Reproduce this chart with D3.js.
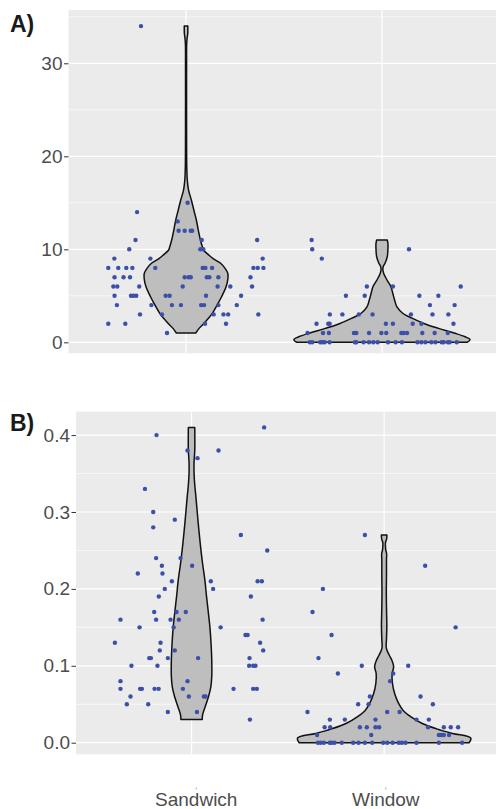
<!DOCTYPE html>
<html>
<head>
<meta charset="utf-8">
<script src="https://cdn.jsdelivr.net/npm/d3@7"></script>
<style>
body { margin: 0; background: #fff; }
svg { display: block; font-family: "Liberation Sans", Arial, sans-serif; }
</style>
</head>
<body>
<svg id="canvas"></svg>
<script>
let categories = ['Sandwich', 'Window'];
let ticksA = [0, 10, 20, 30];
let minorA = [5, 15, 25, 35];
let ticksB = [0, 0.1, 0.2, 0.3, 0.4];
let minorB = [0.05, 0.15, 0.25, 0.35];

// jittered points: [jitter (category units), value]
let sandwichA = [
  [-0.397,8],[-0.366,9],[-0.346,8],[-0.305,8],[-0.274,8],[-0.290,10],[-0.258,11],[-0.250,14],
  [-0.365,7],[-0.319,7],[-0.286,7],[-0.371,6],[-0.351,6],[-0.239,6],
  [-0.365,5],[-0.281,5],[-0.268,5],[-0.254,5],[-0.353,4],[-0.235,3],[-0.397,2],[-0.310,2],
  [-0.182,9],[-0.157,8],[-0.177,4],[-0.123,3],[-0.104,5],[-0.084,5],[-0.072,4],[-0.026,4],[-0.097,1],
  [-0.017,6],[-0.007,7],[0.013,7],[0.024,7],[-0.043,13],[-0.038,12],[-0.007,12],[0.024,12],[0.031,12],[0.008,15],
  [0.080,11],[0.073,10],[0.088,10],[0.085,8],[0.099,8],[0.133,8],[0.106,7],[0.119,7],[0.165,7],
  [0.161,6],[0.226,6],[0.102,5],[0.281,5],[0.077,4],[0.092,4],[0.165,4],[0.259,4],
  [0.141,3],[0.191,3],[0.215,3],[0.097,2],[0.204,2],
  [0.363,11],[0.391,9],[0.344,8],[0.366,8],[0.395,8],[0.329,7],[0.337,6],[0.369,3],[-0.230,34]
];
let windowA = [
  [-0.359,11],[-0.356,10],[-0.307,9],[0.138,10],[0.402,6],[-0.184,5],[0.191,5],[0.288,5],
  [-0.077,6],[0.056,6],[-0.088,5],[0.245,4],[0.371,4],
  [-0.266,3],[-0.202,3],[-0.118,3],[-0.048,3],[0.148,3],[0.258,3],[0.339,3],
  [-0.334,2],[-0.274,2],[-0.267,2],[0.020,2],[0.056,2],[0.157,2],[0.201,2],[0.365,2],
  [-0.380,1],[-0.301,1],[-0.271,1],[-0.143,1],[-0.131,1],[-0.066,1],[-0.003,1],[0.022,1],
  [0.099,1],[0.111,1],[0.128,1],[0.206,1],[0.269,1],[0.336,1],
  [-0.368,0],[-0.356,0],[-0.315,0],[-0.305,0],[-0.293,0],[-0.267,0],[-0.138,0],[-0.131,0],
  [-0.094,0],[-0.066,0],[-0.044,0],[-0.022,0],[0.031,0],[0.070,0],[0.102,0],[0.181,0],
  [0.201,0],[0.222,0],[0.252,0],[0.273,0],[0.305,0],[0.315,0],[0.337,0],[0.346,0],[0.382,0]
];
let sandwichB = [
  [-0.182,0.40],[-0.021,0.38],[0.031,0.37],[0.140,0.38],[-0.242,0.33],[-0.199,0.30],[-0.199,0.28],
  [-0.087,0.29],[0.256,0.27],[-0.184,0.24],[-0.057,0.24],[-0.154,0.23],[0.003,0.23],[-0.151,0.22],
  [-0.279,0.22],[-0.102,0.21],[0.100,0.21],[-0.139,0.20],[0.112,0.20],[-0.170,0.19],
  [-0.194,0.17],[-0.078,0.17],[-0.030,0.17],[-0.184,0.16],[-0.369,0.16],[-0.109,0.16],[-0.066,0.16],
  [-0.270,0.15],[-0.093,0.15],[0.151,0.15],[-0.398,0.13],[-0.161,0.13],[-0.165,0.12],[-0.087,0.12],
  [-0.220,0.11],[-0.211,0.11],[-0.123,0.11],[0.034,0.11],[-0.312,0.10],[-0.177,0.10],
  [-0.369,0.08],[-0.021,0.08],[-0.369,0.07],[-0.267,0.07],[-0.258,0.07],[-0.192,0.07],[-0.171,0.07],
  [-0.045,0.07],[0.218,0.07],[-0.317,0.06],[-0.014,0.06],[0.064,0.06],[0.073,0.06],
  [-0.336,0.05],[-0.225,0.05],[-0.123,0.04],[0.028,0.04],
  [0.377,0.41],[0.393,0.25],[0.343,0.21],[0.365,0.21],[0.308,0.19],[0.369,0.16],[0.280,0.14],
  [0.291,0.14],[0.356,0.13],[0.372,0.12],[0.301,0.11],[0.299,0.10],[0.320,0.10],[0.332,0.10],
  [0.320,0.07],[0.339,0.07],[0.303,0.03]
];
let windowB = [
  [-0.100,0.27],[0.213,0.23],[-0.318,0.20],[-0.372,0.17],[0.371,0.15],[-0.273,0.14],[-0.341,0.11],
  [-0.116,0.10],[0.125,0.10],[-0.240,0.09],[0.047,0.09],[0.031,0.08],[0.189,0.06],[-0.074,0.06],
  [-0.135,0.05],[-0.081,0.05],[0.253,0.05],[-0.398,0.04],[0.016,0.04],[0.080,0.04],
  [-0.282,0.03],[-0.204,0.03],[-0.045,0.03],[0.168,0.03],[0.232,0.03],
  [-0.309,0.02],[-0.280,0.02],[-0.126,0.02],[-0.090,0.02],[-0.045,0.02],[-0.026,0.02],
  [0.228,0.02],[0.310,0.02],[0.346,0.02],[0.384,0.02],
  [-0.348,0.01],[-0.067,0.01],[0.284,0.01],[0.296,0.01],[0.310,0.01],[0.337,0.01],
  [-0.344,0],[-0.330,0],[-0.313,0],[-0.282,0],[-0.272,0],[-0.258,0],[-0.220,0],[-0.161,0],
  [-0.133,0],[-0.100,0],[-0.062,0],[-0.005,0],[0.016,0],[0.044,0],[0.076,0],[0.092,0],
  [0.111,0],[0.168,0],[0.284,0],[0.405,0]
];

// violin outlines: [value, relative density]
let sandwichViolinA = [
  [1.0,0.11],[1.5,0.148],[2.0,0.199],[3.0,0.29],[4.0,0.352],[4.9,0.403],[6.0,0.455],[6.8,0.474],
  [7.4,0.474],[7.95,0.443],[8.5,0.392],[9.0,0.307],[9.4,0.256],[9.9,0.199],[10.3,0.184],[11.0,0.163],
  [12.1,0.138],[13.1,0.118],[14.2,0.089],[15.3,0.06],[16.4,0.028],[17.45,0.014],[19,0.008],[24,0.006],
  [30,0.006],[32,0.007],[32.6,0.011],[33.2,0.019],[34,0.02]
];
let windowViolinA = [
  [0,0.966],[0.3,1.0],[0.6,0.943],[1.0,0.818],[1.5,0.642],[2.0,0.483],[2.6,0.341],[3.1,0.239],
  [3.8,0.17],[4.5,0.145],[5.3,0.122],[6.0,0.101],[6.7,0.057],[7.4,0.02],[7.85,0.01],[8.2,0.017],
  [8.5,0.035],[9.2,0.06],[9.9,0.067],[10.6,0.068],[11,0.06]
];
let sandwichViolinB = [
  [0.03,0.123],[0.036,0.127],[0.047,0.158],[0.06,0.196],[0.073,0.223],[0.086,0.233],[0.108,0.233],
  [0.129,0.225],[0.151,0.211],[0.173,0.19],[0.19,0.173],[0.212,0.153],[0.233,0.127],[0.255,0.104],
  [0.277,0.084],[0.298,0.067],[0.32,0.05],[0.335,0.037],[0.35,0.029],[0.365,0.029],[0.38,0.037],[0.41,0.037]
];
let windowViolinB = [
  [0,0.98],[0.006,1.0],[0.012,0.79],[0.018,0.606],[0.025,0.44],[0.034,0.306],[0.042,0.219],
  [0.051,0.167],[0.064,0.121],[0.077,0.096],[0.09,0.092],[0.099,0.11],[0.107,0.09],[0.114,0.058],
  [0.123,0.025],[0.135,0.027],[0.151,0.031],[0.17,0.028],[0.194,0.025],[0.22,0.027],[0.238,0.027],
  [0.245,0.029],[0.252,0.017],[0.26,0.015],[0.265,0.029],[0.27,0.032]
];

let w = 496;
let h = 809;

let canvas = d3.select('#canvas').attr('width', w).attr('height', h);

let widthScale = d3.scaleLinear().domain([0, 1]).range([0, 0.45]);

let panels = [
  {
    label: 'A)', labelY: 32,
    x: d3.scaleLinear().domain([0.4, 2.6]).range([68.5, 499.5]),
    y: d3.scaleLinear().domain([-1.18, 35.73]).range([353.3, 10]),
    ticks: ticksA, minor: minorA, fmt: d3.format('d'),
    violins: [sandwichViolinA, windowViolinA], points: [sandwichA, windowA]
  },
  {
    label: 'B)', labelY: 431,
    x: d3.scaleLinear().domain([0.4, 2.6]).range([76, 499.7]),
    y: d3.scaleLinear().domain([-0.0151, 0.4304]).range([754.3, 411.7]),
    ticks: ticksB, minor: minorB, fmt: d3.format('.1f'),
    violins: [sandwichViolinB, windowViolinB], points: [sandwichB, windowB]
  }
];

const drawPanel = (p) => {
  let g = canvas.append('g');
  let [xl, xr] = p.x.range();
  let [yb, yt] = p.y.range();

  g.append('rect')
    .attr('x', xl).attr('y', yt)
    .attr('width', xr - xl).attr('height', yb - yt)
    .attr('fill', '#ebebeb');

  g.selectAll('.minor')
    .data(p.minor)
    .enter()
    .append('line')
    .attr('x1', xl).attr('x2', xr)
    .attr('y1', d => p.y(d)).attr('y2', d => p.y(d))
    .attr('stroke', '#fff').attr('stroke-width', 0.6);

  g.selectAll('.major')
    .data(p.ticks)
    .enter()
    .append('line')
    .attr('x1', xl).attr('x2', xr)
    .attr('y1', d => p.y(d)).attr('y2', d => p.y(d))
    .attr('stroke', '#fff').attr('stroke-width', 1.2);

  g.selectAll('.vmajor')
    .data(categories)
    .enter()
    .append('line')
    .attr('x1', (d, i) => p.x(i + 1)).attr('x2', (d, i) => p.x(i + 1))
    .attr('y1', yt).attr('y2', yb)
    .attr('stroke', '#fff').attr('stroke-width', 1.2);

  p.violins.forEach((v, i) => {
    let area = d3.area()
      .curve(d3.curveCatmullRom.alpha(0.5))
      .y(d => p.y(d[0]))
      .x0(d => p.x(i + 1 - widthScale(d[1])))
      .x1(d => p.x(i + 1 + widthScale(d[1])));
    g.append('path')
      .attr('d', area(v))
      .attr('fill', '#bebebe')
      .attr('stroke', '#111')
      .attr('stroke-width', 1.5)
      .attr('stroke-linejoin', 'round');
  });

  p.points.forEach((pts, i) => {
    g.selectAll('.pt' + i)
      .data(pts)
      .enter()
      .append('circle')
      .attr('cx', d => p.x(i + 1 + d[0]))
      .attr('cy', d => p.y(d[1]))
      .attr('r', 2.2)
      .attr('fill', '#3c4fa9');
  });

  let yAxis = d3.axisLeft(p.y)
    .tickValues(p.ticks)
    .tickFormat(p.fmt)
    .tickSize(4.5)
    .tickPadding(1.5);

  let ax = g.append('g')
    .attr('transform', 'translate(' + xl + ', 0)')
    .call(yAxis);
  ax.select('.domain').remove();
  ax.selectAll('line').attr('stroke', '#333').attr('stroke-width', 1);
  ax.selectAll('text')
    .attr('fill', '#4d4d4d')
    .style('font-size', '19px')
    .style('font-family', '"Liberation Sans", Arial, sans-serif');

  canvas.append('text')
    .attr('x', 10)
    .attr('y', p.labelY)
    .attr('font-size', 23)
    .attr('font-weight', 'bold')
    .attr('fill', '#1a1a1a')
    .text(p.label);
};

panels.forEach(drawPanel);

// category labels along the bottom
let xLabels = d3.scaleLinear().domain([0.4, 2.6]).range([82, 499]);
let xAxis = d3.axisBottom(xLabels)
  .tickValues([1, 2])
  .tickFormat((d) => categories[d - 1])
  .tickSize(2);

let bx = canvas.append('g')
  .attr('transform', 'translate(0, 787.5)')
  .call(xAxis);
bx.select('.domain').remove();
bx.selectAll('line').attr('stroke', '#aaa');
bx.selectAll('text')
  .attr('y', 18)
  .attr('dy', 0)
  .attr('fill', '#4d4d4d')
  .style('font-size', '19px')
  .style('font-family', '"Liberation Sans", Arial, sans-serif');
</script>
</body>
</html>
